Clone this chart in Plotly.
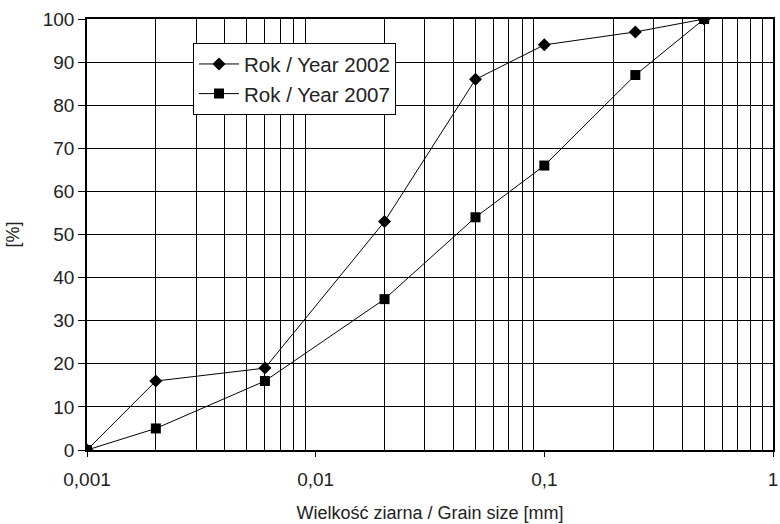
import plotly.graph_objects as go

grain_size = [0.001, 0.002, 0.006, 0.02, 0.05, 0.1, 0.25, 0.5]
year_2002 = [0, 16, 19, 53, 86, 94, 97, 100]
year_2007 = [0, 5, 16, 35, 54, 66, 87, 100]

x_ticks = [0.001, 0.01, 0.1, 1]
x_tick_labels = ["0,001", "0,01", "0,1", "1"]
x_minor = [m * d for d in [0.001, 0.01, 0.1] for m in range(2, 10)]
y_ticks = list(range(0, 101, 10))

FONT = "Liberation Sans, Arial, sans-serif"

fig = go.Figure()
fig.add_trace(go.Scatter(
    x=grain_size, y=year_2002, mode="lines+markers", name="Rok / Year 2002",
    line=dict(color="black", width=1),
    marker=dict(symbol="diamond", size=10, color="black"),
    legendgroup="a",
))
fig.add_trace(go.Scatter(
    x=grain_size, y=year_2007, mode="lines+markers", name="Rok / Year 2007",
    line=dict(color="black", width=1),
    marker=dict(symbol="square", size=10, color="black"),
    legendgroup="b",
))

fig.update_layout(
    width=780, height=524,
    margin=dict(l=87, r=7, t=19, b=74),
    paper_bgcolor="white", plot_bgcolor="white",
    font=dict(family=FONT, size=19, color="#222"),
    showlegend=True,
    legend=dict(
        x=0.1545, y=0.944, xanchor="left", yanchor="top",
        bgcolor="white", bordercolor="black", borderwidth=1,
        font=dict(size=20.5, color="#222"),
        tracegroupgap=0, itemwidth=40,
    ),
    xaxis=dict(
        type="log", range=[-3, 0], automargin=False,
        tickvals=x_ticks, ticktext=x_tick_labels,
        showgrid=False, ticks="outside", ticklen=5, tickcolor="black",
        ticklabelstandoff=6,
        showline=True, linecolor="black", linewidth=1.5, mirror=True,
        zeroline=False,
        minor=dict(tickvals=x_minor, showgrid=True, gridcolor="black",
                   gridwidth=1.2, ticks=""),
        title=dict(text="Wielkość ziarna / Grain size [mm]", standoff=18,
                   font=dict(size=18, color="#222")),
    ),
    yaxis=dict(
        range=[0, 100], tickvals=y_ticks, automargin=False,
        showgrid=True, gridcolor="black", gridwidth=1.2,
        ticks="outside", ticklen=7, tickcolor="black",
        showline=True, linecolor="black", linewidth=1.5, mirror=True,
        zeroline=False,
        title=dict(text="[%]", standoff=18, font=dict(size=18, color="#222")),
    ),
)

fig.write_html(
    "out.html",
    config={"displayModeBar": False},
    post_script="document.body.style.margin='0';"
                "document.documentElement.style.overflow='hidden';"
                "document.body.style.overflow='hidden';",
)
